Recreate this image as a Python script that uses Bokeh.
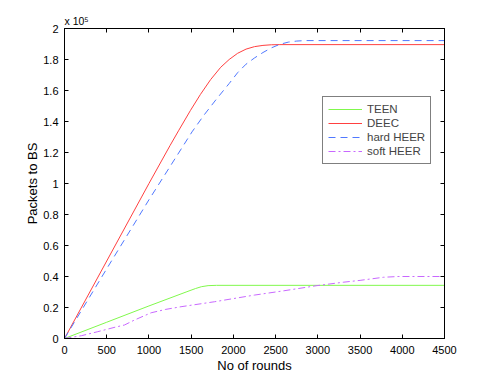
from bokeh.plotting import figure
from bokeh.models import (Range1d, FixedTicker, LinearAxis, CustomJSTickFormatter,
                          Legend, LegendItem, Title)
from bokeh.embed import file_html
from bokeh.resources import INLINE

# ---- data (packets to BS) ----
teen_x = [0, 500, 1000, 1450, 1550, 1620, 1700, 1800, 4500]
teen_y = [0, 10500, 21000, 30200, 32200, 33400, 34100, 34300, 34300]

deec_x = [0, 500, 1000, 1250, 1350, 1490, 1610, 1730, 1850, 1950, 2050, 2150, 2250,
          2350, 2450, 2550, 4500]
deec_y = [0, 50000, 100000, 124500, 134000, 147000, 157500, 167000, 175000, 180000,
          184000, 186700, 188300, 189100, 189500, 189600, 189600]

hard_x = [0, 500, 1000, 1410, 1510, 1650, 1800, 1950, 2050, 2150, 2250, 2350, 2450,
          2550, 2650, 2750, 2850, 4500]
hard_y = [0, 45000, 89500, 124700, 133300, 144000, 154500, 164500, 171500, 177000,
          181000, 184500, 187500, 189800, 191200, 191900, 192200, 192200]

soft_x = [0, 200, 394, 600, 710, 828, 1026, 1200, 1380, 1775, 2248, 2600, 2989, 3300,
          3500, 3777, 3950, 4500]
soft_y = [0, 1800, 4400, 7300, 8700, 11900, 16600, 18800, 20500, 23700, 28000, 30800,
          34100, 36300, 37500, 39500, 40000, 40000]

x_ticks = [0, 500, 1000, 1500, 2000, 2500, 3000, 3500, 4000, 4500]
y_ticks = [0, 20000, 40000, 60000, 80000, 100000, 120000, 140000, 160000, 180000, 200000]

FONT = "Liberation Sans"

p = figure(frame_width=380, frame_height=310, output_backend="svg", toolbar_location=None,
           x_range=Range1d(0, 4500), y_range=Range1d(0, 200000),
           min_border_left=64, min_border_top=28, min_border_right=40, min_border_bottom=40,
           background_fill_color="white", border_fill_color="white")
p.xgrid.visible = False
p.ygrid.visible = False
p.outline_line_color = "black"
p.outline_line_width = 1

yfmt = CustomJSTickFormatter(code="return String(Math.round(tick/1e4)/10);")
blank = CustomJSTickFormatter(code="return '';")

for ax in (p.xaxis[0], p.yaxis[0]):
    ax.axis_line_color = "black"
    ax.major_tick_line_color = "black"
    ax.major_tick_in = 4
    ax.major_tick_out = 0
    ax.minor_tick_line_color = None
    ax.major_label_text_font = FONT
    ax.major_label_text_font_size = "11px"
    ax.major_label_text_color = "black"
    ax.axis_label_text_font = FONT
    ax.axis_label_text_font_size = "13px"
    ax.axis_label_text_font_style = "normal"
    ax.axis_label_text_color = "black"

p.xaxis[0].ticker = FixedTicker(ticks=x_ticks)
p.yaxis[0].ticker = FixedTicker(ticks=y_ticks)
p.yaxis[0].formatter = yfmt
p.xaxis[0].axis_label = "No of rounds"
p.yaxis[0].axis_label = "Packets to BS"
p.xaxis[0].major_label_standoff = 7
p.xaxis[0].axis_label_standoff = 1
p.yaxis[0].major_label_standoff = 6
p.yaxis[0].axis_label_standoff = 0

# mirrored axes (top / right) with inward ticks only
top = LinearAxis(ticker=FixedTicker(ticks=x_ticks), formatter=blank,
                 major_label_text_font_size="1px",
                 major_tick_in=4, major_tick_out=0, minor_tick_line_color=None,
                 major_label_standoff=0, axis_line_color="black")
right = LinearAxis(ticker=FixedTicker(ticks=y_ticks), formatter=blank,
                   major_label_text_font_size="1px",
                   major_tick_in=4, major_tick_out=0, minor_tick_line_color=None,
                   major_label_standoff=0, axis_line_color="black")
p.add_layout(top, "above")
p.add_layout(right, "right")

r_teen = p.line(teen_x, teen_y, line_color="#80f84c", line_width=1)
r_deec = p.line(deec_x, deec_y, line_color="#ff4040", line_width=1)
r_hard = p.line(hard_x, hard_y, line_color="#5078ff", line_width=1, line_dash="7 5")
r_soft = p.line(soft_x, soft_y, line_color="#c868ff", line_width=1, line_dash="7 3 2 3")

legend = Legend(items=[LegendItem(label="TEEN", renderers=[r_teen]),
                       LegendItem(label="DEEC", renderers=[r_deec]),
                       LegendItem(label="hard HEER", renderers=[r_hard]),
                       LegendItem(label="soft HEER", renderers=[r_soft])],
                location=(258, 174), padding=5, spacing=0, margin=0,
                label_height=14, glyph_height=14, glyph_width=34, label_standoff=5,
                label_text_font=FONT, label_text_font_size="11.5px",
                border_line_color="black", border_line_width=1,
                background_fill_color="white", background_fill_alpha=1)
p.add_layout(legend)

p.add_layout(Title(text="x 10\u2075", align="left", offset=0, standoff=4,
                   text_font=FONT, text_font_size="10.5px", text_font_style="normal",
                   text_color="black"), "above")

open("out.html", "w").write(file_html(p, INLINE))
